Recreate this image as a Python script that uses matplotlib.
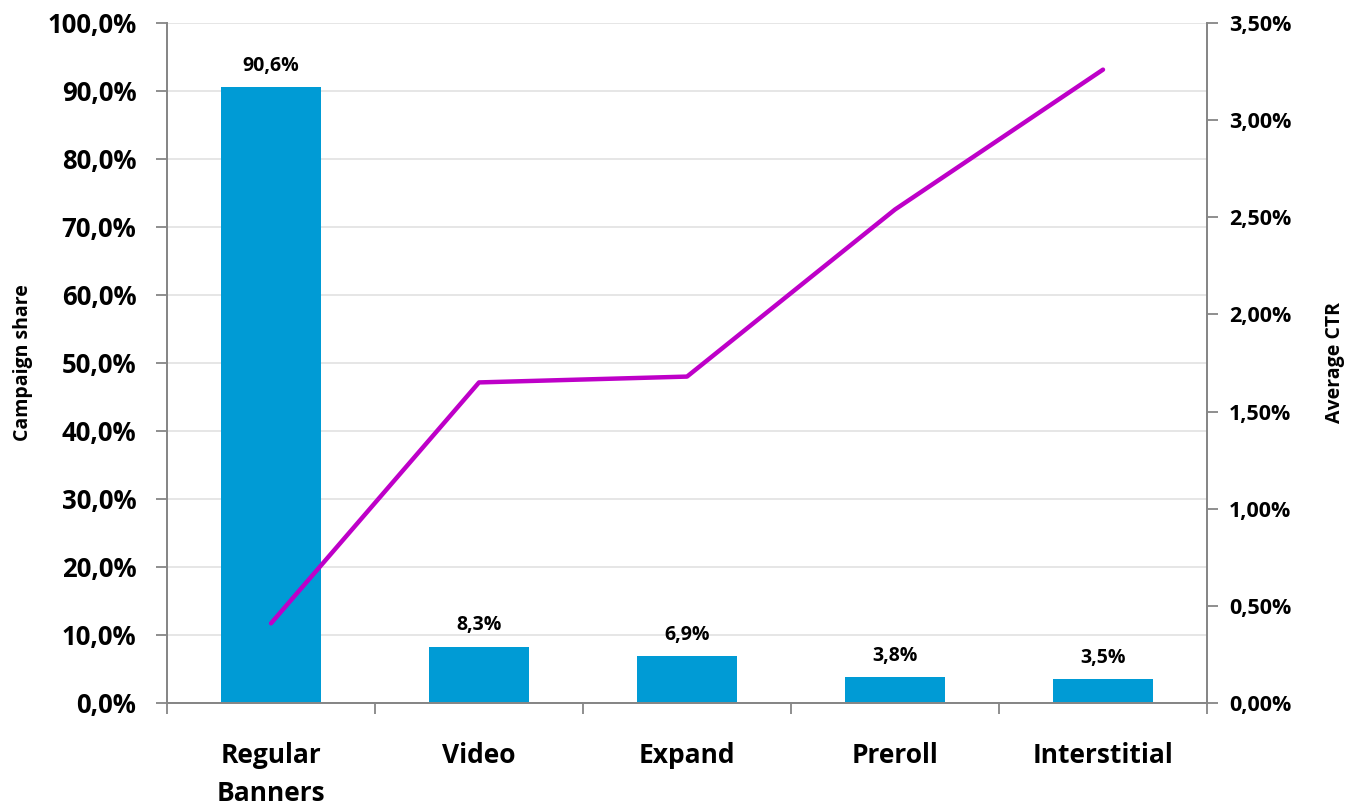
import matplotlib
matplotlib.use("Agg")
import matplotlib.pyplot as plt
from matplotlib.ticker import FuncFormatter, FixedLocator, MultipleLocator
import numpy as np

categories = ["Regular\nBanners", "Video", "Expand", "Preroll", "Interstitial"]
campaign_share = [90.6, 8.3, 6.9, 3.8, 3.5]          # %
average_ctr = [0.41, 1.65, 1.68, 2.54, 3.26]          # %

BAR_COLOR = "#009BD5"
LINE_COLOR = "#BE00C8"
SPINE_COLOR = "#868686"
GRID_COLOR = "#E4E4E4"

plt.rcParams["font.family"] = ["Open Sans", "DejaVu Sans"]
plt.rcParams["font.weight"] = "bold"

fig = plt.figure(figsize=(13.48, 8.07), dpi=100)
ax = fig.add_axes([0.1239, 0.1289, 0.7715, 0.8426])
ax2 = ax.twinx()

x = np.arange(len(categories))
ax.bar(x, campaign_share, width=0.485, color=BAR_COLOR, zorder=2)
for xi, v in zip(x, campaign_share):
    ax.annotate(f"{v:.1f}%".replace(".", ","), (xi, v), xytext=(0, 8),
                textcoords="offset points", ha="center", va="bottom",
                fontsize=14, fontweight="bold")

ax2.plot(x, average_ctr, color=LINE_COLOR, lw=3.2, solid_capstyle="round", zorder=3)

ax.set_xlim(-0.5, len(categories) - 0.5)
ax.set_ylim(0, 100)
ax2.set_ylim(0, 3.5)

ax.yaxis.set_major_locator(MultipleLocator(10))
ax.yaxis.set_major_formatter(FuncFormatter(lambda v, p: f"{v:.1f}%".replace(".", ",")))
ax2.yaxis.set_major_locator(MultipleLocator(0.5))
ax2.yaxis.set_major_formatter(FuncFormatter(lambda v, p: f"{v:.2f}%".replace(".", ",")))

ax.set_xticks(x)
ax.set_xticklabels(categories, fontsize=19, fontweight="bold")
for t in ax.get_xticklabels():
    t.set_linespacing(1.55)
ax.xaxis.set_minor_locator(FixedLocator(np.arange(-0.5, len(categories), 1)))
ax.tick_params(axis="x", which="major", length=0, pad=28)
ax.tick_params(axis="x", which="minor", length=8, width=1.3, color=SPINE_COLOR, direction="out")

ax.tick_params(axis="y", length=8, width=1.3, color=SPINE_COLOR, labelsize=18.5, pad=14)
ax2.tick_params(axis="y", length=8, width=1.3, color=SPINE_COLOR, labelsize=15.5, pad=8)
for lbl in ax.get_yticklabels() + ax2.get_yticklabels():
    lbl.set_fontweight("bold")

ax.grid(axis="y", color=GRID_COLOR, lw=1.3, zorder=0)
ax.set_axisbelow(True)

for a in (ax, ax2):
    a.spines["top"].set_visible(False)
    for s in ("left", "right", "bottom"):
        a.spines[s].set_color(SPINE_COLOR)
        a.spines[s].set_linewidth(1.3)

ax.set_ylabel("Campaign share", fontsize=14, fontweight="bold")
ax2.set_ylabel("Average CTR", fontsize=14, fontweight="bold")
ax.yaxis.set_label_coords(-0.1287, 0.5)
ax2.yaxis.set_label_coords(1.1135, 0.5)

fig.savefig("out.png", dpi=100, facecolor="white")
